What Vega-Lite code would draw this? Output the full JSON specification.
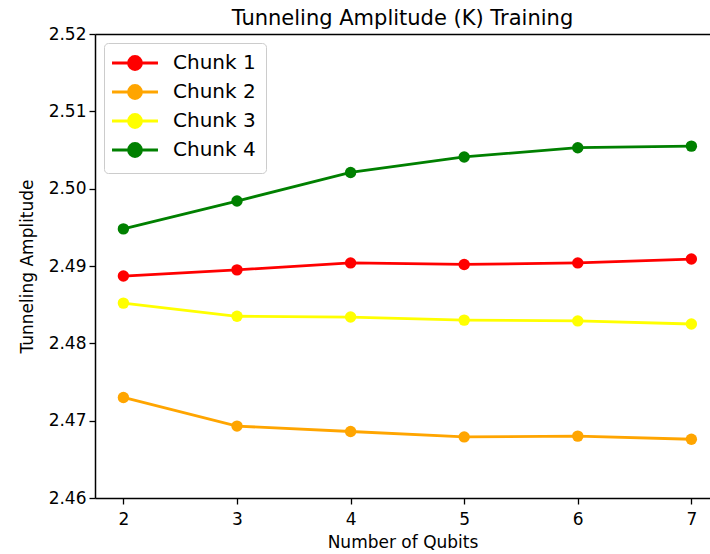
{
  "$schema": "https://vega.github.io/schema/vega-lite/v6.json",
  "autosize": {"type": "none"},
  "padding": {"left": 95, "top": 34, "right": 0, "bottom": 56},
  "width": 615,
  "height": 464,
  "background": "white",
  "config": {
    "font": "DejaVu Sans",
    "view": {"stroke": null},
    "axis": {"grid": false, "domainColor": "black", "domainWidth": 1.5, "tickColor": "black", "tickWidth": 1.3, "tickSize": 6, "labelColor": "black", "labelFontSize": 17, "titleColor": "black", "titleFontWeight": "normal", "titleFontSize": 17}
  },
  "title": {"text": "Tunneling Amplitude (K) Training", "fontSize": 21, "fontWeight": "normal", "color": "black", "offset": -4},
  "data": {"values": [
    {"q": 2, "chunk": "Chunk 1", "amp": 2.4887},
    {"q": 3, "chunk": "Chunk 1", "amp": 2.4895},
    {"q": 4, "chunk": "Chunk 1", "amp": 2.4904},
    {"q": 5, "chunk": "Chunk 1", "amp": 2.4902},
    {"q": 6, "chunk": "Chunk 1", "amp": 2.4904},
    {"q": 7, "chunk": "Chunk 1", "amp": 2.4909},
    {"q": 2, "chunk": "Chunk 2", "amp": 2.4730},
    {"q": 3, "chunk": "Chunk 2", "amp": 2.4693},
    {"q": 4, "chunk": "Chunk 2", "amp": 2.4686},
    {"q": 5, "chunk": "Chunk 2", "amp": 2.4679},
    {"q": 6, "chunk": "Chunk 2", "amp": 2.4680},
    {"q": 7, "chunk": "Chunk 2", "amp": 2.4676},
    {"q": 2, "chunk": "Chunk 3", "amp": 2.4852},
    {"q": 3, "chunk": "Chunk 3", "amp": 2.4835},
    {"q": 4, "chunk": "Chunk 3", "amp": 2.4834},
    {"q": 5, "chunk": "Chunk 3", "amp": 2.4830},
    {"q": 6, "chunk": "Chunk 3", "amp": 2.4829},
    {"q": 7, "chunk": "Chunk 3", "amp": 2.4825},
    {"q": 2, "chunk": "Chunk 4", "amp": 2.4948},
    {"q": 3, "chunk": "Chunk 4", "amp": 2.4984},
    {"q": 4, "chunk": "Chunk 4", "amp": 2.5021},
    {"q": 5, "chunk": "Chunk 4", "amp": 2.5041},
    {"q": 6, "chunk": "Chunk 4", "amp": 2.5053},
    {"q": 7, "chunk": "Chunk 4", "amp": 2.5055}
  ]},
  "resolve": {"axis": {"x": "independent", "y": "independent"}},
  "layer": [
    {
      "mark": {"type": "line", "strokeWidth": 2.8},
      "encoding": {
        "x": {"field": "q", "type": "quantitative", "scale": {"domain": [1.75, 7.164], "nice": false, "zero": false},
              "axis": {"values": [2, 3, 4, 5, 6, 7], "format": "d", "title": "Number of Qubits", "labelPadding": 7, "titlePadding": 7}},
        "y": {"field": "amp", "type": "quantitative", "scale": {"domain": [2.46, 2.52], "nice": false, "zero": false},
              "axis": {"values": [2.46, 2.47, 2.48, 2.49, 2.5, 2.51, 2.52], "format": ".2f", "title": "Tunneling Amplitude", "labelPadding": 3, "titlePadding": 12}},
        "color": {"field": "chunk", "type": "nominal",
                  "scale": {"domain": ["Chunk 1", "Chunk 2", "Chunk 3", "Chunk 4"], "range": ["#ff0000", "#ffa500", "#ffff00", "#008000"]},
                  "legend": {"title": null, "orient": "none", "legendX": 9, "legendY": 9,
                             "symbolType": "M-3.83,0L3.83,0M1.08,0A1.08,1.08,0,1,1,-1.08,0A1.08,1.08,0,1,1,1.08,0Z",
                             "symbolSize": 144, "symbolStrokeWidth": 2.8, "symbolOffset": 11, "labelFontSize": 20, "labelColor": "black",
                             "labelOffset": 28, "rowPadding": 3, "padding": 10,
                             "strokeColor": "#cccccc", "fillColor": "white", "cornerRadius": 4,
                             "encode": {"symbols": {"update": {"fill": {"scale": "color", "field": "value"}, "stroke": {"scale": "color", "field": "value"}, "opacity": {"value": 1}}}}}}
      }
    },
    {
      "mark": {"type": "point", "filled": true, "size": 130, "opacity": 1},
      "encoding": {
        "x": {"field": "q", "type": "quantitative", "axis": {"orient": "top", "labels": false, "ticks": false, "title": null}},
        "y": {"field": "amp", "type": "quantitative", "axis": {"orient": "right", "labels": false, "ticks": false, "title": null, "domain": false}},
        "color": {"field": "chunk", "type": "nominal"}
      }
    }
  ]
}
